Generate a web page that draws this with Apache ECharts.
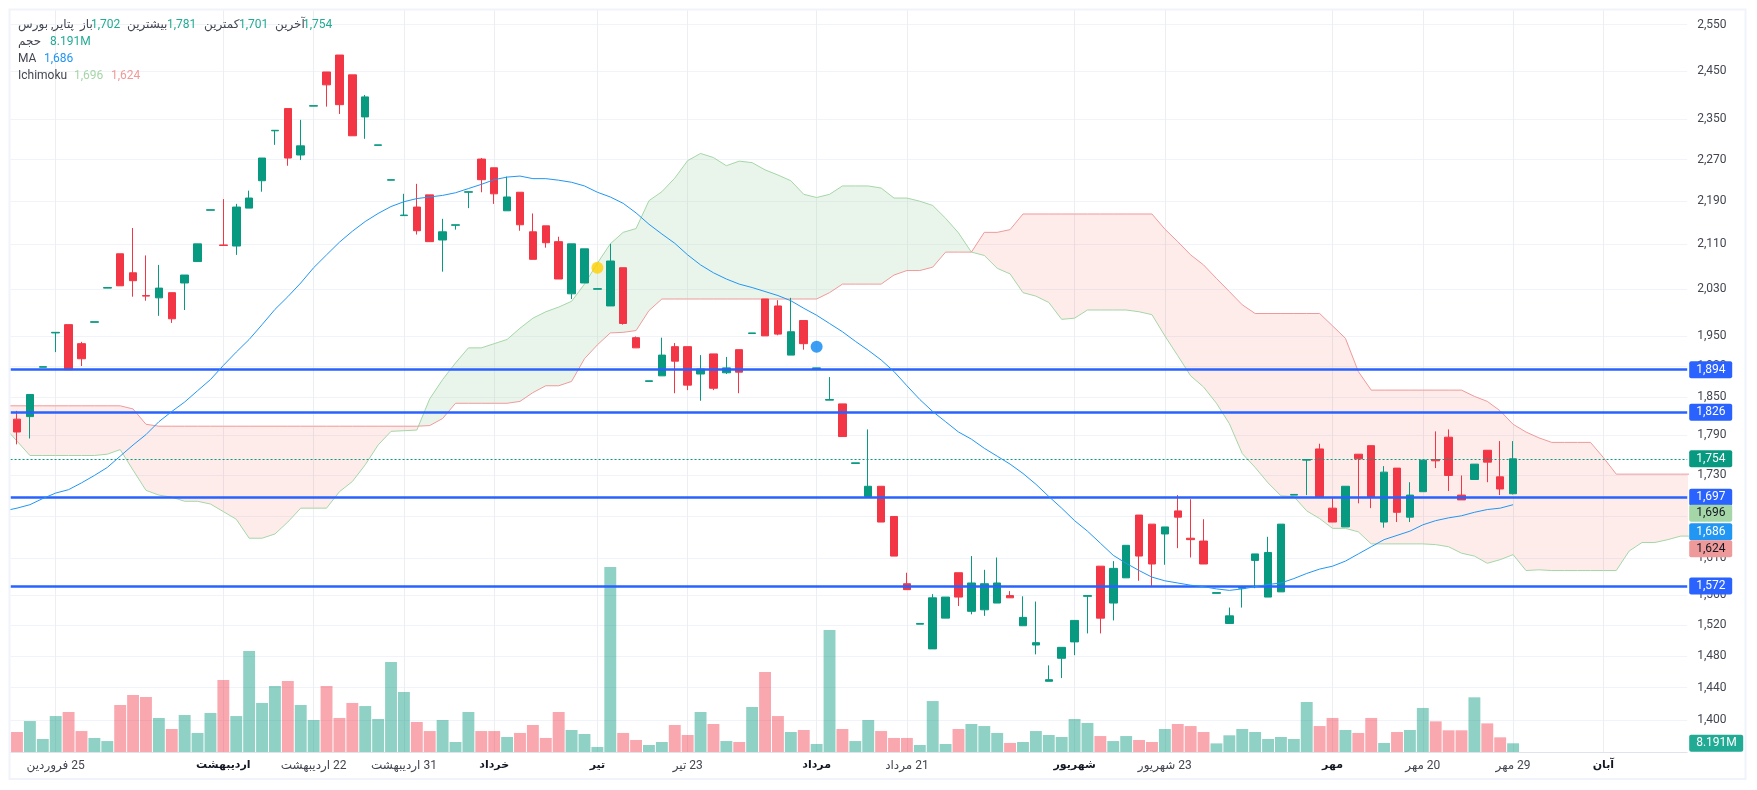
<!DOCTYPE html>
<html>
<head>
<meta charset="utf-8">
<style>
  html, body { margin: 0; padding: 0; background: #fff; }
  #chart { width: 1757px; height: 790px; }
</style>
<script src="https://cdn.jsdelivr.net/npm/echarts@6/dist/echarts.min.js"></script>
</head>
<body>
<div id="chart"></div>
<script>
const FONT = 'Roboto, "DejaVu Sans", sans-serif';
const UP = '#089981';
const DOWN = '#F23645';

const opens = [1815,1819,1898,1955,1969,1937,1973,2032,2093,2059,2019,2015,2024,2041,2079,2173,2109,2107,2177,2229,2327,2372,2279,2377,2448,2484,2442,2355,2298,2230,2163,2179,2202,2118,2145,2207,2271,2254,2172,2207,2133,2144,2115,2022,2041,2030,2001,2068,1947,1875,1884,1932,1932,1887,1920,1889,1927,1954,2013,2001,1918,1976,1896,1845,1839,1747,1698,1713,1669,1575,1521,1489,1529,1590,1538,1540,1549,1559,1519,1494,1448,1477,1498,1558,1599,1549,1583,1671,1658,1644,1677,1638,1634,1562,1522,1569,1607,1557,1564,1700,1752,1769,1681,1654,1761,1774,1661,1740,1668,1705,1753,1787,1700,1723,1767,1727,1702];
const closes = [1795,1854,1899,1956,1894,1912,1974,2033,2036,2045,2018,2032,1979,2055,2111,2174,2108,2179,2196,2273,2328,2273,2297,2378,2421,2380,2317,2396,2299,2231,2164,2135,2115,2133,2146,2208,2231,2204,2198,2146,2083,2113,2048,2111,2102,2031,2080,1971,1930,1876,1918,1908,1869,1895,1864,1897,1890,1955,1950,1953,1957,1937,1897,1846,1788,1748,1713,1661,1613,1567,1522,1556,1557,1557,1576,1575,1576,1556,1530,1497,1450,1491,1526,1559,1529,1596,1628,1613,1602,1654,1668,1636,1602,1563,1532,1570,1616,1618,1658,1701,1753,1697,1661,1713,1754,1697,1734,1675,1700,1752,1751,1729,1693,1746,1749,1709,1754];
const lows = [1776,1785,1898,1923,1894,1900,1973,2032,2036,2017,2010,1984,1972,1994,2079,2173,2108,2091,2177,2208,2299,2258,2269,2377,2376,2361,2317,2311,2298,2230,2163,2128,2115,2061,2137,2177,2207,2185,2172,2135,2083,2104,2048,2013,2041,2030,2001,1969,1930,1875,1884,1856,1861,1844,1861,1887,1856,1954,1950,1951,1918,1927,1896,1845,1788,1747,1697,1661,1613,1567,1521,1489,1529,1545,1534,1532,1549,1556,1519,1482,1448,1452,1481,1509,1509,1526,1583,1579,1572,1601,1624,1611,1602,1562,1522,1543,1569,1557,1564,1700,1700,1697,1661,1654,1688,1681,1653,1661,1661,1705,1740,1706,1693,1723,1719,1700,1701];
const highs = [1828,1854,1899,1956,1969,1940,1974,2033,2093,2140,2090,2073,2024,2055,2111,2174,2194,2185,2210,2273,2328,2372,2349,2378,2448,2484,2442,2400,2299,2231,2204,2223,2202,2157,2146,2208,2273,2254,2237,2207,2167,2144,2124,2111,2102,2031,2111,2068,1949,1876,1947,1938,1932,1918,1920,1915,1927,1955,2013,2011,2015,1976,1897,1882,1839,1748,1799,1713,1669,1590,1522,1561,1557,1590,1613,1594,1611,1565,1558,1551,1468,1491,1526,1559,1599,1606,1628,1671,1658,1654,1700,1694,1665,1563,1543,1570,1616,1640,1658,1701,1753,1777,1697,1713,1761,1774,1743,1740,1719,1752,1796,1799,1729,1746,1767,1781,1781];

// volume in millions
const volumes = [18.8,29.1,12.2,33.8,37.6,19.7,13.2,10.3,44.2,53.6,51.7,32.0,21.6,34.8,17.9,36.7,67.7,33.8,94.9,46.1,62.0,66.7,44.2,30.1,62.0,32.0,46.1,43.2,31.0,84.6,56.4,28.2,19.7,30.1,9.4,37.6,19.7,19.7,14.1,17.9,25.4,13.2,37.6,20.7,16.9,4.7,173.9,17.9,11.3,6.6,9.4,25.4,16.0,37.6,26.3,10.3,9.4,42.3,75.2,33.8,18.8,20.7,7.5,114.7,21.6,10.3,30.1,19.7,13.2,13.2,6.6,47.9,7.5,21.6,26.3,24.4,17.9,8.5,9.4,19.7,16.0,14.1,31.0,27.3,15.0,10.3,15.0,11.3,9.4,21.6,26.3,24.4,18.8,8.1,15.7,21.6,18.8,12.2,14.1,12.2,47.0,24.4,32.0,20.7,17.9,32.0,8.5,18.8,20.7,41.4,28.8,20.4,20.4,51.4,26.9,13.8,8.191];

// moving average, first value sits one bar left of the first candle
const maValues = [1677,1681,1686,1695,1703,1708,1718,1729,1741,1758,1775,1791,1811,1827,1842,1860,1878,1901,1923,1944,1969,1995,2017,2041,2068,2091,2114,2134,2152,2167,2180,2189,2195,2198,2201,2206,2214,2222,2231,2236,2238,2233,2233,2230,2226,2219,2207,2198,2186,2168,2147,2129,2112,2091,2073,2059,2048,2039,2033,2026,2019,2010,1997,1985,1971,1957,1941,1926,1910,1891,1868,1846,1827,1811,1795,1784,1770,1758,1746,1732,1716,1698,1681,1663,1648,1631,1614,1603,1593,1584,1579,1576,1573,1571,1568,1566,1568,1571,1574,1576,1582,1589,1595,1599,1606,1616,1626,1636,1642,1648,1657,1663,1667,1670,1675,1679,1681,1686];

// ichimoku spans run from one bar before the first candle to bar 130
const spanA = [1803,1781,1759,1759,1759,1759,1759,1759,1761,1768,1737,1707,1700,1697,1691,1691,1687,1676,1665,1638,1638,1644,1661,1681,1681,1681,1705,1720,1745,1775,1796,1797,1798,1847,1878,1905,1930,1930,1937,1944,1963,1980,1991,1999,2009,2039,2076,2111,2132,2139,2191,2208,2234,2268,2282,2274,2258,2267,2264,2250,2240,2229,2203,2197,2203,2219,2219,2219,2215,2196,2196,2190,2182,2158,2131,2096,2090,2067,2057,2024,2018,2007,1978,1980,1994,1994,1994,1994,1991,1986,1950,1917,1884,1866,1840,1808,1762,1741,1718,1699,1698,1677,1666,1652,1652,1647,1630,1630,1630,1630,1630,1629,1626,1617,1613,1603,1608,1615,1593,1594,1593,1593,1593,1593,1593,1593,1620,1632,1632,1636,1641,1641];
const spanB = [1836,1836,1836,1836,1836,1836,1836,1836,1836,1836,1831,1807,1804,1804,1804,1804,1804,1804,1804,1804,1804,1804,1804,1804,1804,1804,1804,1804,1804,1804,1804,1804,1804,1805,1816,1840,1840,1840,1840,1840,1843,1857,1868,1868,1875,1912,1935,1955,1956,1959,1993,2013,2013,2013,2013,2013,2013,2013,2013,2013,2013,2013,2013,2013,2024,2039,2039,2039,2039,2055,2063,2063,2069,2096,2096,2096,2132,2132,2137,2166,2166,2166,2166,2166,2166,2166,2166,2166,2166,2166,2138,2115,2091,2073,2049,2026,2003,1988,1988,1988,1988,1988,1988,1967,1946,1891,1861,1861,1861,1861,1861,1861,1861,1861,1851,1843,1828,1807,1795,1786,1779,1779,1779,1779,1756,1731,1731,1731,1731,1731,1731,1731];

const priceTicks = [2550,2450,2350,2270,2190,2110,2030,1950,1900,1850,1790,1730,1670,1610,1560,1520,1480,1440,1400];
const timeTicks = [3,16,23,30,37,45,52,62,69,82,89,102,109,116,123];
// the LRM keeps the day number on the right of the month name
const timeLabels = ['فروردین\u200E 25','اردیبهشت','اردیبهشت\u200E 22','اردیبهشت\u200E 31','خرداد','تیر','تیر\u200E 23','مرداد','مرداد\u200E 21','شهریور','شهریور\u200E 23','مهر','مهر\u200E 20','مهر\u200E 29','آبان'];
const monthTicks = [16,37,45,62,82,102,123];

const levels = [1894,1826,1697,1572];
const lastPrice = 1754;
const signals = [[45,2068,'#ffd000'],[62,1932,'#0a84f0']];

const fmt = v => Number(v).toLocaleString('en-US');
const xOf = arr => arr.map((v, i) => [i - 1, v]);

function cloudItem(params, api) {
  if (params.dataIndex !== 0) return null;
  const runs = [];
  let cur = null;
  for (let i = 0; i < spanA.length; i++) {
    const x = i - 1, a = spanA[i], b = spanB[i];
    const above = a >= b;
    if (cur && cur.above !== above) {
      const d0 = spanA[i - 1] - spanB[i - 1], d1 = a - b;
      const t = d0 / (d0 - d1);
      const cx = x - 1 + t, cy = spanA[i - 1] + (a - spanA[i - 1]) * t;
      cur.top.push([cx, cy]);
      cur.bot.push([cx, cy]);
      runs.push(cur);
      cur = { above, top: [[cx, cy]], bot: [[cx, cy]] };
    }
    if (!cur) cur = { above, top: [], bot: [] };
    cur.top.push([x, a]);
    cur.bot.push([x, b]);
  }
  runs.push(cur);
  return {
    type: 'group',
    children: runs.map(r => ({
      type: 'polygon',
      shape: { points: r.top.concat(r.bot.slice().reverse()).map(p => api.coord(p)) },
      style: { fill: r.above ? 'rgba(165,214,167,0.24)' : 'rgba(244,67,54,0.1)' }
    }))
  };
}

const tagLabel = (text, bg, color, offsetY, width) => ({
  show: true, position: 'end', distance: 2, formatter: text,
  backgroundColor: bg, color, width: width || 36, align: 'left',
  padding: [3, 0, 2, 7], borderRadius: 2, fontFamily: FONT, fontSize: 12, lineHeight: 12,
  offset: [0, offsetY || 0]
});
const hiddenLine = { color: 'transparent', width: 0 };

const legendRows = [
  [18, 25, 'پتایر, بورس', '#434651'], [80, 25, 'باز', '#434651'], [91, 25, '1,702', '#22ab94'],
  [127, 25, 'بیشترین', '#434651'], [167, 25, '1,781', '#22ab94'], [204, 25, 'کمترین', '#434651'],
  [239, 25, '1,701', '#22ab94'], [275, 25, 'آخرین', '#434651'], [303, 25, '1,754', '#22ab94'],
  [18, 42, 'حجم', '#434651'], [50, 42, '8.191M', '#22ab94'],
  [18, 59, 'MA', '#434651'], [44, 59, '1,686', '#2196f3'],
  [18, 76, 'Ichimoku', '#434651'], [74, 76, '1,696', '#a5d6a7'], [111, 76, '1,624', '#ef9a9a']
];

const chart = echarts.init(document.getElementById('chart'), null, { renderer: 'canvas' });
chart.setOption({
  animation: false,
  backgroundColor: '#fff',
  textStyle: { fontFamily: FONT },
  grid: [
    { left: 10.55, right: 69.8, top: 10, bottom: 38 },
    { left: 10.55, right: 69.8, top: 552, bottom: 38 }
  ],
  xAxis: [
    {
      type: 'value', gridIndex: 0, min: -0.5, max: 129.5,
      axisLine: { show: true, onZero: false, lineStyle: { color: '#e0e3eb' } },
      axisTick: { show: false, customValues: timeTicks },
      splitLine: { show: true, lineStyle: { color: '#eceef2' } },
      axisLabel: {
        customValues: timeTicks, margin: 8, color: '#434651', fontFamily: FONT, fontSize: 12,
        hideOverlap: false,
        formatter: v => {
          const label = timeLabels[timeTicks.indexOf(v)];
          return monthTicks.includes(v) ? '{b|' + label + '}' : label;
        },
        rich: { b: { fontWeight: 'bold', fontFamily: FONT, fontSize: 11, color: '#131722' } }
      }
    },
    { type: 'value', gridIndex: 1, min: -0.5, max: 129.5, show: false }
  ],
  yAxis: [
    {
      type: 'log', gridIndex: 0, position: 'right', min: 1362.4, max: 2582.3,
      axisLine: { show: false },
      axisTick: { show: false, customValues: priceTicks },
      splitLine: { show: true, lineStyle: { color: '#f0f3fa' } },
      axisLabel: {
        customValues: priceTicks, margin: 10, color: '#434651', fontFamily: FONT, fontSize: 12,
        formatter: v => fmt(v)
      }
    },
    { type: 'value', gridIndex: 1, min: 0, max: 188, show: false }
  ],
  graphic: [
    {
      type: 'rect', silent: true, z: 100,
      shape: { x: 9.5, y: 9.5, width: 1736, height: 769.5 },
      style: { fill: 'none', stroke: '#f0f3fa', lineWidth: 2 }
    }
  ].concat(legendRows.map(r => ({
    type: 'text', silent: true, z: 100, x: r[0], y: r[1],
    style: { text: r[2], fill: r[3], font: '12px ' + FONT, textVerticalAlign: 'middle' }
  }))),
  series: [
    {
      name: 'volume', type: 'bar', xAxisIndex: 1, yAxisIndex: 1, barWidth: 11.9, z: 1,
      data: volumes.map((v, i) => ({
        value: [i, v],
        itemStyle: { color: closes[i] >= opens[i] ? 'rgba(8,153,129,0.45)' : 'rgba(242,54,69,0.43)' }
      })),
      markLine: {
        silent: true, symbol: 'none', animation: false,
        data: [{
          yAxis: volumes[volumes.length - 1],
          lineStyle: hiddenLine,
          label: tagLabel('8.191M', '#22ab94', '#fff', 0, 47)
        }]
      }
    },
    {
      name: 'cloud', type: 'custom', xAxisIndex: 0, yAxisIndex: 0, clip: true, z: 2, silent: true,
      renderItem: cloudItem,
      encode: { x: 0, y: [1, 2] },
      data: spanA.map((a, i) => [i - 1, a, spanB[i]])
    },
    {
      name: 'spanA', type: 'line', xAxisIndex: 0, yAxisIndex: 0, symbol: 'none', z: 3, silent: true,
      lineStyle: { color: '#a5d6a7', width: 1 }, data: xOf(spanA)
    },
    {
      name: 'spanB', type: 'line', xAxisIndex: 0, yAxisIndex: 0, symbol: 'none', z: 3, silent: true,
      lineStyle: { color: '#ef9a9a', width: 1 }, data: xOf(spanB)
    },
    {
      name: 'levels', type: 'line', xAxisIndex: 0, yAxisIndex: 0, symbol: 'none', z: 3, silent: true,
      data: [],
      markLine: {
        silent: true, symbol: 'none', animation: false,
        lineStyle: { color: '#2962ff', width: 2.5, type: 'solid' },
        data: levels.map(v => ({
          yAxis: v,
          label: tagLabel(fmt(v), '#2962ff', '#fff')
        })).concat([
          {
            yAxis: lastPrice,
            lineStyle: { color: UP, width: 1, type: [2, 2] },
            label: tagLabel(fmt(lastPrice), UP, '#fff')
          },
          { yAxis: 1696, lineStyle: hiddenLine, label: tagLabel('1,696', '#a5d6a7', '#131722', 15.4) },
          { yAxis: 1686, lineStyle: hiddenLine, label: tagLabel('1,686', '#2196f3', '#fff', 27) },
          { yAxis: 1624, lineStyle: hiddenLine, label: tagLabel('1,624', '#ef9a9a', '#131722', 0.5) }
        ])
      }
    },
    {
      name: 'candles', type: 'candlestick', xAxisIndex: 0, yAxisIndex: 0, barWidth: 8, z: 4,
      itemStyle: { color: UP, color0: DOWN, borderColor: UP, borderColor0: DOWN, borderWidth: 1 },
      data: opens.map((o, i) => [i, o, closes[i], lows[i], highs[i]])
    },
    {
      name: 'MA', type: 'line', xAxisIndex: 0, yAxisIndex: 0, symbol: 'none', z: 5, silent: true,
      lineStyle: { color: '#2196f3', width: 1 }, data: xOf(maValues)
    },
    {
      name: 'signals', type: 'scatter', xAxisIndex: 0, yAxisIndex: 0, symbolSize: 12, z: 6, silent: true,
      data: signals.map(s => ({ value: [s[0], s[1]], itemStyle: { color: s[2] } }))
    }
  ]
});
</script>
</body>
</html>
